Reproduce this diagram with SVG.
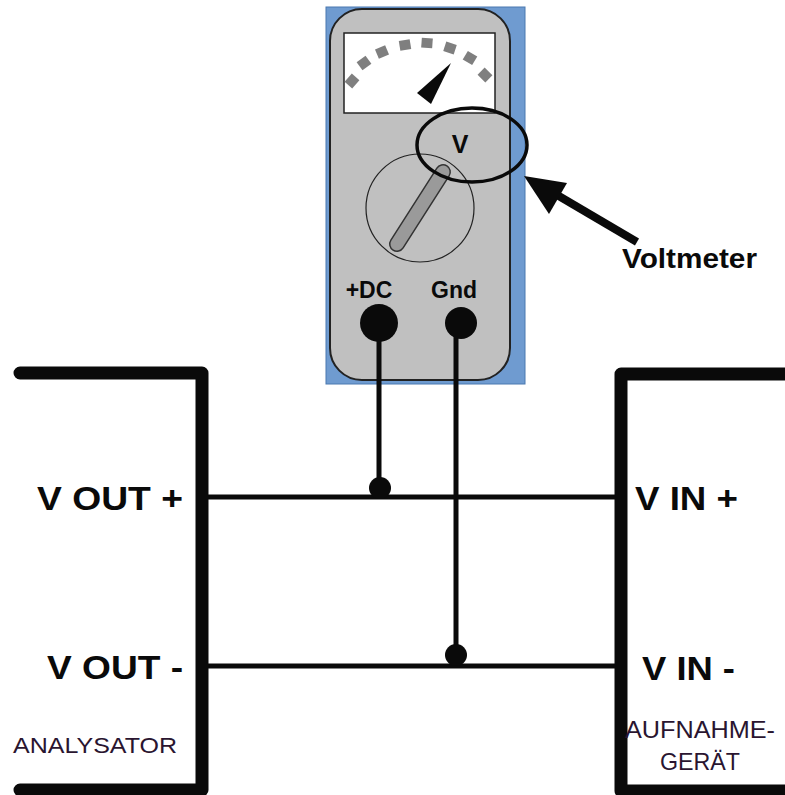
<svg xmlns="http://www.w3.org/2000/svg" width="785" height="795" viewBox="0 0 785 795">
  <style>
    .bold { font-family: "Liberation Sans", Arial, sans-serif; font-weight: bold; fill: #0a0a0a; }
    .label { font-family: "Liberation Sans", Arial, sans-serif; fill: #2a1530; }
    .bracket { fill: none; stroke: #0a0a0a; stroke-width: 13; stroke-linecap: round; stroke-linejoin: round; }
    .wire { fill: none; stroke: #0a0a0a; stroke-width: 5; }
    .dash { fill: #7f7f7f; }
  </style>
  <rect width="785" height="795" fill="#ffffff"/>

  <!-- Voltmeter -->
  <g id="voltmeter">
    <rect x="326" y="7" width="199" height="377" fill="#6f9bd0" stroke="#4a78b0" stroke-width="1"/>
    <rect x="330" y="9" width="180" height="371" rx="32" ry="32" fill="#c0c0c0" stroke="#222" stroke-width="2"/>
    <!-- display -->
    <rect x="344" y="33" width="151" height="80" fill="#ffffff" stroke="#222" stroke-width="1.5"/>
    <g class="dash">
      <rect x="-5.5" y="-5" width="11" height="10" transform="translate(352,81) rotate(-49)"/>
      <rect x="-5.5" y="-5" width="11" height="10" transform="translate(364,63) rotate(-36)"/>
      <rect x="-5.5" y="-5" width="11" height="10" transform="translate(382,52) rotate(-23)"/>
      <rect x="-5.5" y="-5" width="11" height="10" transform="translate(405,45) rotate(-9)"/>
      <rect x="-5.5" y="-5" width="11" height="10" transform="translate(427,43) rotate(4)"/>
      <rect x="-5.5" y="-5" width="11" height="10" transform="translate(450,48) rotate(18)"/>
      <rect x="-5.5" y="-5" width="11" height="10" transform="translate(470,58) rotate(31)"/>
      <rect x="-5.5" y="-5" width="11" height="10" transform="translate(485,75) rotate(45)"/>
    </g>
    <polygon points="451,63 417,93 431,104" fill="#0a0a0a"/>
    <!-- range dial -->
    <circle cx="420" cy="208" r="54" fill="none" stroke="#222" stroke-width="1.2"/>
    <line x1="443" y1="172" x2="397" y2="244" stroke="#333" stroke-width="16" stroke-linecap="round"/>
    <line x1="443" y1="172" x2="397" y2="244" stroke="#9a9a9a" stroke-width="13" stroke-linecap="round"/>
    <text class="bold" x="460" y="153" font-size="25" text-anchor="middle">V</text>
    <ellipse cx="472" cy="145" rx="55" ry="37" fill="none" stroke="#0a0a0a" stroke-width="3.5"/>
    <!-- terminals -->
    <text class="bold" x="369" y="298" font-size="23" text-anchor="middle">+DC</text>
    <text class="bold" x="454" y="298" font-size="23" text-anchor="middle">Gnd</text>
    <circle cx="379" cy="323" r="19" fill="#0a0a0a"/>
    <circle cx="461" cy="323" r="16" fill="#0a0a0a"/>
  </g>

  <!-- Voltmeter callout -->
  <g id="callout">
    <line x1="637" y1="242" x2="552" y2="192" stroke="#0a0a0a" stroke-width="8"/>
    <polygon points="524,176 567,183 549,214" fill="#0a0a0a"/>
    <text class="bold" x="622" y="268" font-size="28" textLength="135" lengthAdjust="spacingAndGlyphs" fill="#1a0a1a">Voltmeter</text>
  </g>

  <!-- Analysator block -->
  <g id="analysator">
    <polyline class="bracket" points="20,373 202,373 202,790 20,790"/>
    <text class="bold" x="37" y="510" font-size="34" textLength="146" lengthAdjust="spacingAndGlyphs">V OUT +</text>
    <text class="bold" x="47" y="679" font-size="34" textLength="136" lengthAdjust="spacingAndGlyphs">V OUT -</text>
    <text class="label" x="13" y="753" font-size="22" textLength="164" lengthAdjust="spacingAndGlyphs">ANALYSATOR</text>
  </g>

  <!-- Aufnahmegeraet block -->
  <g id="aufnahmegeraet">
    <polyline class="bracket" points="795,374 621,374 621,791 795,791"/>
    <text class="bold" x="635" y="510" font-size="34" textLength="103" lengthAdjust="spacingAndGlyphs">V IN +</text>
    <text class="bold" x="642" y="680" font-size="34" textLength="93" lengthAdjust="spacingAndGlyphs">V IN -</text>
    <text class="label" x="700" y="738" font-size="24" text-anchor="middle" textLength="150" lengthAdjust="spacingAndGlyphs">AUFNAHME-</text>
    <text class="label" x="700" y="770" font-size="24" text-anchor="middle" textLength="80" lengthAdjust="spacingAndGlyphs">GERÄT</text>
  </g>

  <!-- Connections -->
  <g id="connectors">
    <line class="wire" x1="205" y1="497" x2="618" y2="497"/>
    <line class="wire" x1="205" y1="666" x2="618" y2="666"/>
    <line class="wire" x1="379" y1="323" x2="379" y2="492" stroke-width="6"/>
    <line class="wire" x1="456" y1="323" x2="456" y2="662" stroke-width="6"/>
    <circle cx="380" cy="488" r="11" fill="#0a0a0a"/>
    <circle cx="456" cy="655" r="11" fill="#0a0a0a"/>
  </g>
</svg>
